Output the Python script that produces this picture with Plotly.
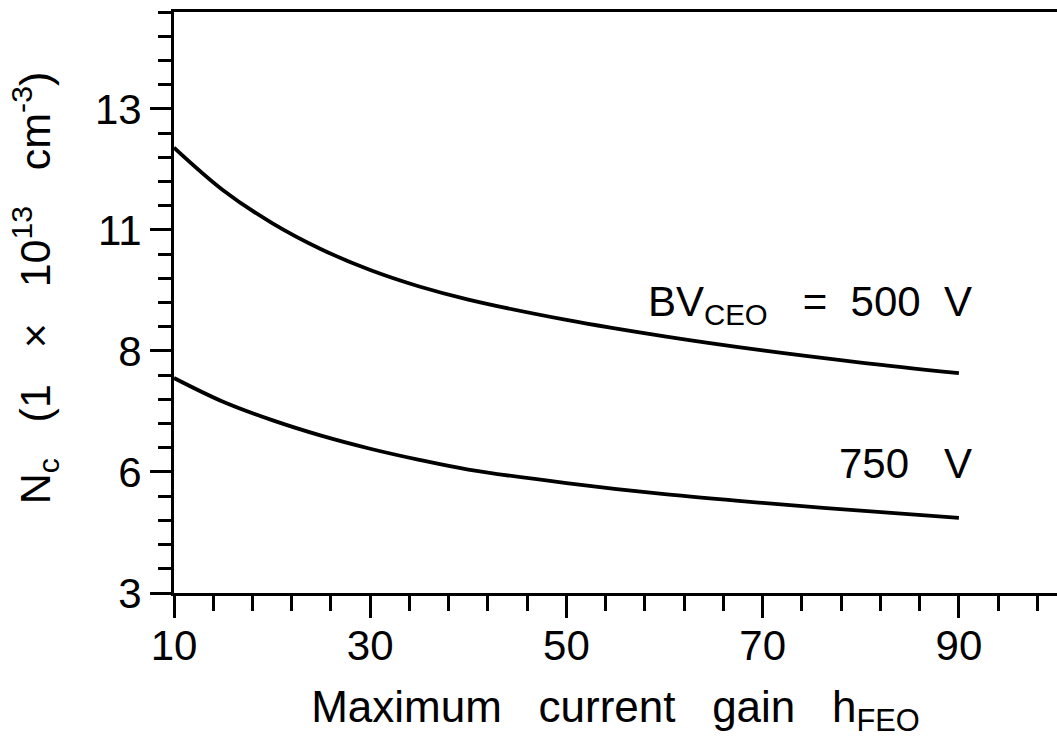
import plotly.graph_objects as go

# Maximum current gain h_FEO (x) and collector doping N_c (units of 1e13 cm^-3)
gain = [10, 15, 20, 25, 30, 35, 40, 50, 60, 70, 80, 90]
nc_500v = [12.20, 11.32, 10.64, 10.10, 9.67, 9.33, 9.06, 8.64, 8.30, 8.01, 7.76, 7.54]
nc_750v = [7.44, 6.95, 6.57, 6.25, 5.98, 5.75, 5.55, 5.27, 5.04, 4.86, 4.70, 4.55]

x_tickvals = [10, 30, 50, 70, 90]
x_ticktext = ["10", "30", "50", "70", "90"]
y_tickvals = [3, 5.5, 8, 10.5, 13]
y_ticktext = ["3", "6", "8", "11", "13"]

FONT = "Liberation Sans, Arial, sans-serif"
NB = "\u00a0"

fig = go.Figure()
for ys in (nc_500v, nc_750v):
    fig.add_trace(go.Scatter(
        x=gain, y=ys, mode="lines",
        line=dict(color="black", width=3.8, shape="spline", smoothing=1.0),
        showlegend=False, hoverinfo="skip",
    ))

fig.add_annotation(
    x=91.5, y=8.95, xref="x", yref="y", xanchor="right", yanchor="middle",
    text="BV<sub>CEO</sub>" + NB * 3 + "=" + NB * 2 + "500" + NB * 2 + "V",
    showarrow=False, font=dict(family=FONT, size=42, color="black"),
)
fig.add_annotation(
    x=91.5, y=5.68, xref="x", yref="y", xanchor="right", yanchor="middle",
    text="750" + NB * 3 + "V",
    showarrow=False, font=dict(family=FONT, size=42, color="black"),
)

# y-axis title placed as a rotated paper-space annotation
fig.add_annotation(
    x=-0.157, y=0.525, xref="paper", yref="paper", xanchor="center", yanchor="middle",
    textangle=-90, showarrow=False,
    text="N<sub>c</sub>" + NB * 3 + "(1" + NB * 3 + "\u00d7" + NB * 3 + "10<sup>13</sup>"
         + NB * 3 + "cm<sup>-3</sup>)",
    font=dict(family=FONT, size=43, color="black"),
)

fig.update_layout(
    width=1057, height=742,
    margin=dict(l=174, r=0, t=12, b=149),
    paper_bgcolor="white", plot_bgcolor="white",
    font=dict(family=FONT, size=42, color="black"),
    xaxis=dict(
        range=[10, 100], showgrid=False, zeroline=False,
        showline=True, linecolor="black", linewidth=3, mirror=True,
        ticks="outside", ticklen=22, tickwidth=3, tickcolor="black",
        tickmode="array", tickvals=x_tickvals, ticktext=x_ticktext,
        tickfont=dict(family=FONT, size=42), ticklabelstandoff=-8,
        minor=dict(tick0=10, dtick=4, ticks="outside", ticklen=15,
                   tickwidth=3, tickcolor="black", showgrid=False),
        title=dict(text="Maximum" + NB * 3 + "current" + NB * 3 + "gain" + NB * 3 + "h<sub>FEO</sub>",
                   font=dict(family=FONT, size=44), standoff=23),
    ),
    yaxis=dict(
        range=[3, 15], showgrid=False, zeroline=False,
        showline=True, linecolor="black", linewidth=3,
        ticks="outside", ticklen=21, tickwidth=3, tickcolor="black",
        tickmode="array", tickvals=y_tickvals, ticktext=y_ticktext,
        tickfont=dict(family=FONT, size=42),
        minor=dict(tick0=3, dtick=0.5, ticks="outside", ticklen=13,
                   tickwidth=3, tickcolor="black", showgrid=False),
    ),
)

fig.write_html("out.html")
